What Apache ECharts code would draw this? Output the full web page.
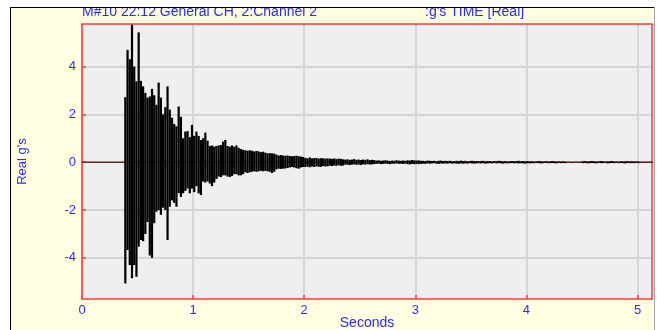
<!DOCTYPE html>
<html>
<head>
<meta charset="utf-8">
<script src="https://cdn.jsdelivr.net/npm/echarts@6/dist/echarts.min.js"></script>
<style>
html,body{margin:0;padding:0;background:#ffffff;}
#wrap{position:relative;width:657px;height:330px;overflow:hidden;background:#ffffff;}
#frame{position:absolute;left:10px;top:7px;width:645px;height:330px;box-sizing:border-box;background:#FFFEE1;border-left:1px solid #000;border-right:1px solid #a8a8a8;}
#c{position:absolute;left:0;top:0;width:657px;height:330px;}
#mask{position:absolute;left:0;top:0;width:657px;height:7px;background:#ffffff;z-index:3;}
#topline{position:absolute;left:10px;top:7px;width:644px;height:1px;background:#000;z-index:3;}
</style>
</head>
<body>
<div id="wrap">
  <div id="frame"></div>
  <div id="c"></div>
  <div id="mask"></div>
  <div id="topline"></div>
</div>
<script>
// ---- texts ----
const titleLeft = "M#10 22:12 General CH, 2:Channel 2";
const titleRight = ":g's TIME [Real]";
const xAxisName = "Seconds";
const yAxisName = "Real g's";

// ---- axes ----
const xTicks = [0, 1, 2, 3, 4, 5];
const yTicks = [-4, -2, 0, 2, 4];
const xRange = [0, 5.13];
const yRange = [-5.72, 5.78];

// ---- signal: quiet part before the impact ----
const quietTime = [0, 0.39];
const quietValue = [0, 0];

// ---- signal: per-interval peak envelope ----
const sampleStart = 0.39;   // s
const sampleStep = 0.02;    // s
const peakHigh = [
  // 0.39 - 0.57
  2.72, 4.70, 4.31, 5.75, 4.00, 3.38, 5.43, 3.40, 3.17, 2.90,
  // 0.59 - 0.77
  2.70, 2.75, 3.07, 2.80, 2.40, 3.33, 2.70, 2.00, 2.30, 3.17,
  // 0.79 - 0.97
  2.20, 1.86, 1.60, 1.50, 2.33, 1.90, 1.00, 1.28, 1.30, 1.05,
  // 0.99 - 1.17
  1.56, 1.10, 1.28, 1.10, 0.93, 1.00, 1.24, 0.90, 0.68, 0.70,
  // 1.19 - 1.37
  0.65, 0.68, 0.70, 0.72, 0.86, 0.93, 0.68, 0.65, 0.70, 0.65,
  // 1.39 - 1.57
  0.70, 0.60, 0.55, 0.52, 0.50, 0.48, 0.50, 0.48, 0.45, 0.47,
  // 1.59 - 1.77
  0.45, 0.42, 0.44, 0.40, 0.37, 0.38, 0.37, 0.36, 0.32, 0.28,
  // 1.79 - 1.99
  0.30, 0.28, 0.27, 0.28, 0.26, 0.25, 0.26, 0.27, 0.25, 0.24, 0.22,
  // 2.01 - 2.21
  0.18, 0.17, 0.20, 0.16, 0.17, 0.18, 0.15, 0.17, 0.16, 0.15, 0.16,
  // 2.23 - 2.35
  0.15, 0.14, 0.16, 0.13, 0.15, 0.14, 0.12,
  // 2.37 - 2.63
  0.11, 0.12, 0.10, 0.11, 0.13, 0.10, 0.11, 0.09, 0.11, 0.10, 0.12, 0.09, 0.10, 0.09,
  // 2.65 - 2.91
  0.07, 0.08, 0.06, 0.07, 0.08, 0.07, 0.05, 0.07, 0.06, 0.08, 0.07, 0.06, 0.07, 0.06,
  // 2.93 - 3.05
  0.08, 0.07, 0.09, 0.08, 0.07, 0.08, 0.06,
  // 3.07 - 3.53
  0.06, 0.05, 0.07, 0.06, 0.05, 0.06, 0.04, 0.06, 0.07, 0.05, 0.06, 0.05,
  0.06, 0.04, 0.05, 0.06, 0.05, 0.07, 0.05, 0.06, 0.04, 0.05, 0.06, 0.05,
  // 3.55 - 4.03
  0.05, 0.04, 0.05, 0.06, 0.04, 0.05, 0.05, 0.03, 0.05, 0.04, 0.06, 0.05, 0.04,
  0.05, 0.03, 0.04, 0.05, 0.04, 0.05, 0.06, 0.04, 0.05, 0.04, 0.05, 0.04,
  // 4.05 - 4.35
  0.04, 0.03, 0.04, 0.05, 0.04, 0.03, 0.04, 0.04, 0.03, 0.05, 0.04, 0.03, 0.04, 0.03, 0.04, 0.03,
  // 4.37 - 4.49
  0.01, 0.02, 0.01, 0.01, 0.02, 0.01, 0.02,
  // 4.51 - 5.01
  0.04, 0.05, 0.03, 0.04, 0.05, 0.04, 0.03, 0.04, 0.05, 0.04, 0.03, 0.04, 0.04,
  0.05, 0.03, 0.04, 0.02, 0.04, 0.03, 0.04, 0.05, 0.03, 0.04, 0.03, 0.04, 0.03,
  // 5.03 - 5.13
  0.01, 0.02, 0.01, 0.01, 0.02, 0.01
];
const peakLow = [
  // 0.39 - 0.57
  -5.07, -3.67, -4.30, -4.85, -4.30, -4.79, -3.53, -3.25, -3.30, -3.00,
  // 0.59 - 0.77
  -2.50, -3.90, -4.00, -2.55, -2.07, -2.00, -2.20, -1.90, -2.00, -3.25,
  // 0.79 - 0.97
  -1.86, -1.60, -1.70, -1.86, -1.29, -1.45, -1.30, -1.20, -1.10, -1.30,
  // 0.99 - 1.17
  -1.10, -1.25, -1.00, -1.30, -1.37, -0.81, -0.85, -0.80, -0.89, -1.00,
  // 1.19 - 1.37
  -0.85, -0.70, -0.60, -0.62, -0.55, -0.55, -0.60, -0.62, -0.58, -0.50,
  // 1.39 - 1.57
  -0.50, -0.55, -0.55, -0.50, -0.42, -0.45, -0.42, -0.40, -0.38, -0.40,
  // 1.59 - 1.77
  -0.38, -0.36, -0.38, -0.36, -0.38, -0.40, -0.45, -0.40, -0.30, -0.27,
  // 1.79 - 1.99
  -0.28, -0.27, -0.26, -0.24, -0.22, -0.20, -0.22, -0.25, -0.27, -0.22, -0.20,
  // 2.01 - 2.21
  -0.20, -0.19, -0.21, -0.18, -0.20, -0.17, -0.19, -0.20, -0.16, -0.18, -0.17,
  // 2.23 - 2.35
  -0.15, -0.16, -0.14, -0.15, -0.13, -0.15, -0.14,
  // 2.37 - 2.63
  -0.10, -0.11, -0.12, -0.10, -0.09, -0.11, -0.10, -0.12, -0.09, -0.10, -0.08, -0.10, -0.09, -0.08,
  // 2.65 - 2.91
  -0.07, -0.06, -0.08, -0.07, -0.06, -0.07, -0.08, -0.06, -0.07, -0.05, -0.07, -0.06, -0.07, -0.06,
  // 2.93 - 3.05
  -0.08, -0.09, -0.07, -0.08, -0.07, -0.08, -0.07,
  // 3.07 - 3.53
  -0.06, -0.07, -0.05, -0.06, -0.05, -0.04, -0.06, -0.07, -0.05, -0.06, -0.05, -0.06,
  -0.04, -0.06, -0.05, -0.06, -0.07, -0.05, -0.06, -0.05, -0.06, -0.04, -0.05, -0.06,
  // 3.55 - 4.03
  -0.05, -0.04, -0.05, -0.04, -0.06, -0.05, -0.04, -0.05, -0.03, -0.05, -0.04, -0.05, -0.06,
  -0.04, -0.05, -0.04, -0.03, -0.05, -0.04, -0.05, -0.04, -0.05, -0.06, -0.04, -0.05,
  // 4.05 - 4.35
  -0.04, -0.04, -0.03, -0.04, -0.05, -0.04, -0.03, -0.04, -0.04, -0.03, -0.04, -0.05, -0.03, -0.04, -0.03, -0.04,
  // 4.37 - 4.49
  -0.01, -0.01, -0.02, -0.01, -0.01, -0.02, -0.01,
  // 4.51 - 5.01
  -0.04, -0.03, -0.05, -0.04, -0.03, -0.04, -0.05, -0.03, -0.04, -0.04, -0.03, -0.05, -0.04,
  -0.03, -0.04, -0.02, -0.04, -0.03, -0.04, -0.05, -0.03, -0.04, -0.03, -0.04, -0.03, -0.04,
  // 5.03 - 5.13
  -0.01, -0.01, -0.02, -0.01, -0.01, -0.01
];

// ---- build series data from the arrays ----
const quietLine = quietTime.map((t, i) => [t, quietValue[i]]);
const envelope = peakHigh.map((hi, i) => [+(sampleStart + i * sampleStep).toFixed(4), hi, peakLow[i]]);

const BLUE = '#2b2bff';
const RED = '#ff3a3a';
const GRIDC = '#d5d5d5';
const FONT = 'Liberation Sans, Arial, sans-serif';

function renderColumn(params, api) {
  const t = api.value(0), hi = api.value(1), lo = api.value(2);
  const a = api.coord([t - sampleStep / 2, hi]);
  const b = api.coord([t + sampleStep / 2, lo]);
  const h = Math.max(b[1] - a[1], 1);
  return {
    type: 'rect',
    shape: {x: a[0], y: (a[1] + b[1]) / 2 - h / 2, width: b[0] - a[0], height: h},
    style: {fill: '#000000'}
  };
}

const chart = echarts.init(document.getElementById('c'), null, {renderer: 'canvas'});
chart.setOption({
  animation: false,
  grid: {
    left: 82, top: 24, right: 5, bottom: 31,
    outerBoundsMode: 'none', containLabel: false,
    show: true, backgroundColor: '#efefef', borderWidth: 0
  },
  graphic: [
    {type: 'text', left: 82, top: 5, style: {text: titleLeft, fill: BLUE, font: '14px ' + FONT}},
    {type: 'text', left: 425, top: 5, style: {text: titleRight, fill: BLUE, font: '14px ' + FONT}}
  ],
  xAxis: [{
    type: 'value', min: xRange[0], max: xRange[1], interval: 1, position: 'bottom',
    name: xAxisName, nameLocation: 'middle', nameGap: 17, nameMoveOverlap: false,
    nameTextStyle: {color: BLUE, fontSize: 14, fontFamily: FONT},
    axisLine: {show: true, onZero: false, lineStyle: {color: RED, width: 1.5}},
    axisTick: {show: true, inside: true, length: 4, customValues: xTicks, lineStyle: {color: RED, width: 1.5}},
    axisLabel: {color: BLUE, fontSize: 13, fontFamily: FONT, margin: 5, customValues: xTicks},
    splitLine: {show: true, lineStyle: {color: GRIDC, width: 2}}
  }, {
    type: 'value', min: xRange[0], max: xRange[1], position: 'top',
    axisLine: {show: true, onZero: false, lineStyle: {color: RED, width: 1.5}},
    axisTick: {show: false}, axisLabel: {show: false}, splitLine: {show: false}
  }],
  yAxis: [{
    type: 'value', min: yRange[0], max: yRange[1], position: 'left',
    name: yAxisName, nameLocation: 'middle', nameGap: 53, nameRotate: 90, nameMoveOverlap: false,
    nameTextStyle: {color: BLUE, fontSize: 13, fontFamily: FONT},
    axisLine: {show: true, onZero: false, lineStyle: {color: RED, width: 1.5}},
    axisTick: {show: true, inside: true, length: 4, customValues: yTicks, lineStyle: {color: RED, width: 1.5}},
    axisLabel: {color: BLUE, fontSize: 13, fontFamily: FONT, margin: 6, customValues: yTicks},
    splitLine: {show: true, lineStyle: {color: GRIDC, width: 2}}
  }, {
    type: 'value', min: yRange[0], max: yRange[1], position: 'right',
    axisLine: {show: true, onZero: false, lineStyle: {color: RED, width: 1.5}},
    axisTick: {show: false}, axisLabel: {show: false}, splitLine: {show: false}
  }],
  series: [
    {
      type: 'line', data: [[xRange[0], 0], [xRange[1], 0]], silent: true,
      symbol: 'none', lineStyle: {color: RED, width: 1}, z: 2
    },
    {
      type: 'line', data: quietLine, symbol: 'none', silent: true,
      lineStyle: {color: '#202020', width: 1}, z: 3
    },
    {
      type: 'custom', data: envelope, renderItem: renderColumn, silent: true,
      encode: {x: 0, y: [1, 2]}, z: 3
    }
  ]
});
</script>
</body>
</html>
